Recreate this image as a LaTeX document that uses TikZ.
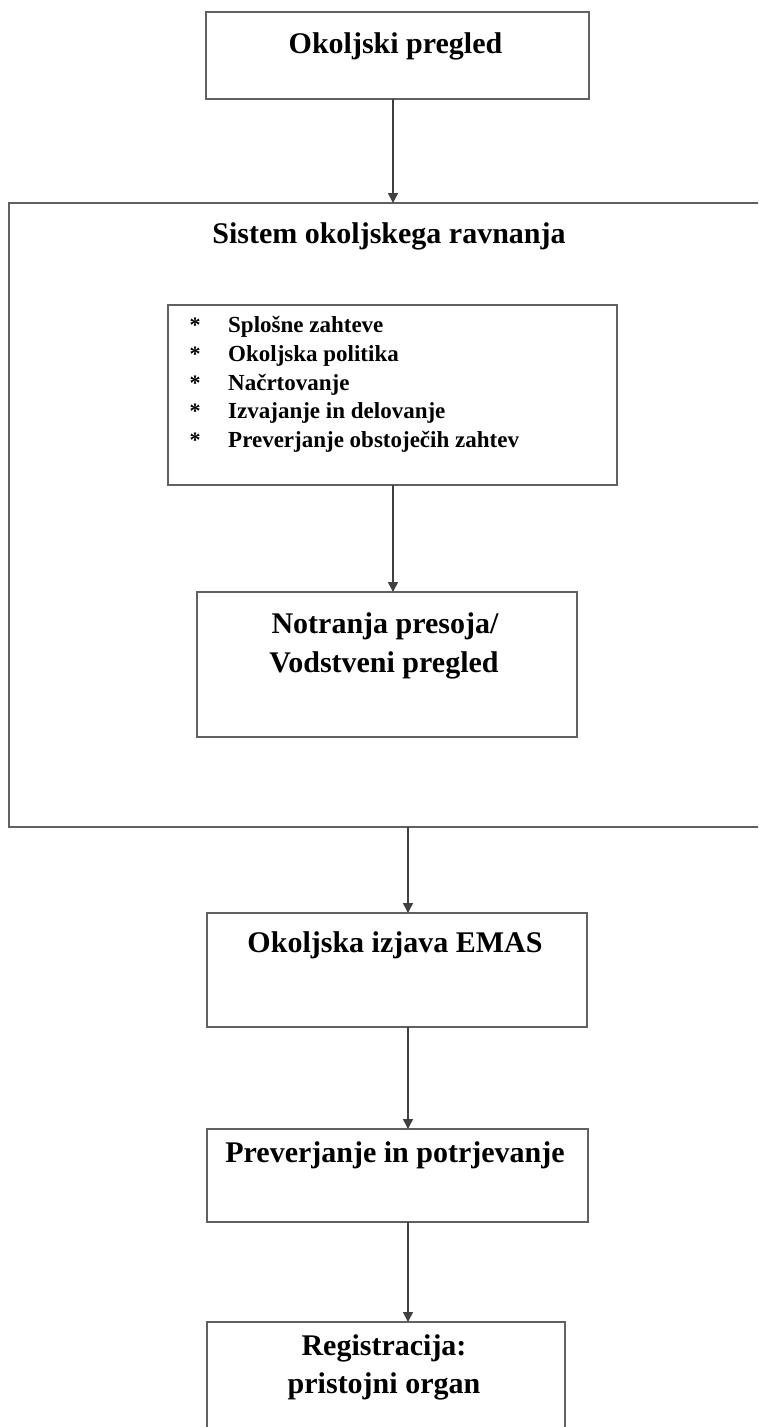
\documentclass[tikz,border=0pt]{standalone}
\usepackage{fontspec}
\setmainfont{Liberation Serif}
\usetikzlibrary{arrows.meta}

\tikzset{
  box/.style={draw=black!62, line width=1.8pt, inner sep=0pt, outer sep=0pt},
  arr/.style={draw=black!75, line width=1.5pt, -{Triangle[length=10pt,width=10pt]}},
  title/.style={anchor=base, inner sep=0pt, font=\bfseries\fontsize{30}{36}\selectfont},
  item/.style={anchor=base west, inner sep=0pt, font=\bfseries\fontsize{23}{28}\selectfont},
  star/.style={anchor=base, inner sep=0pt, font=\bfseries\fontsize{22}{26}\selectfont},
}

\begin{document}
\begin{tikzpicture}[x=1pt, y=-1pt]
  \useasboundingbox (0,0) rectangle (758,1427);
  \clip (0,0) rectangle (758,1427);

  % vertical lines carrying the arrows
  \coordinate (colA) at (393,0);
  \coordinate (colB) at (408,0);

  % boxes
  \node[box, minimum width=383, minimum height=87]  (review)  at (397.5,55.5) {};
  \node[box, minimum width=771, minimum height=624] (ems)     at (394.5,515)  {};
  \node[box, minimum width=449, minimum height=180] (reqs)    at (392.5,395)  {};
  \node[box, minimum width=380, minimum height=145] (audit)   at (387,664.5)  {};
  \node[box, minimum width=380, minimum height=114] (emas)    at (397,970)    {};
  \node[box, minimum width=381, minimum height=93]  (verify)  at (397.5,1175.5) {};
  \node[box, minimum width=358, minimum height=123] (reg)     at (386,1383.5) {};

  % titles
  \node[title] (t1)  at (395.5,53)  {Okoljski pregled};
  \node[title] (t2)  at (389,243)   {Sistem okoljskega ravnanja};
  \node[title] (t3a) at (385,633)   {Notranja presoja/};
  \node[title] (t3b) at (384,672)   {Vodstveni pregled};
  \node[title] (t4)  at (395,952)   {Okoljska izjava EMAS};
  \node[title] (t5)  at (395,1162)  {Preverjanje in potrjevanje};
  \node[title] (t6a) at (384,1355)  {Registracija:};
  \node[title] (t6b) at (384,1393)  {pristojni organ};

  % requirement list
  \foreach \y/\txt [count=\i] in {332/Splošne zahteve, 361/Okoljska politika,
      390/Načrtovanje, 418/Izvajanje in delovanje, 447/Preverjanje obstoječih zahtev} {
    \node[star] (s\i) at (195,\y) {*};
    \node[item] (i\i) at (228,\y) {\txt};
  }

  % connectors
  \draw[arr] (review.south -| colA) -- (ems.north -| colA);
  \draw[arr] (reqs.south -| colA)   -- (audit.north -| colA);
  \draw[arr] (ems.south -| colB)    -- (emas.north -| colB);
  \draw[arr] (emas.south -| colB)   -- (verify.north -| colB);
  \draw[arr] (verify.south -| colB) -- (reg.north -| colB);
\end{tikzpicture}
\end{document}
